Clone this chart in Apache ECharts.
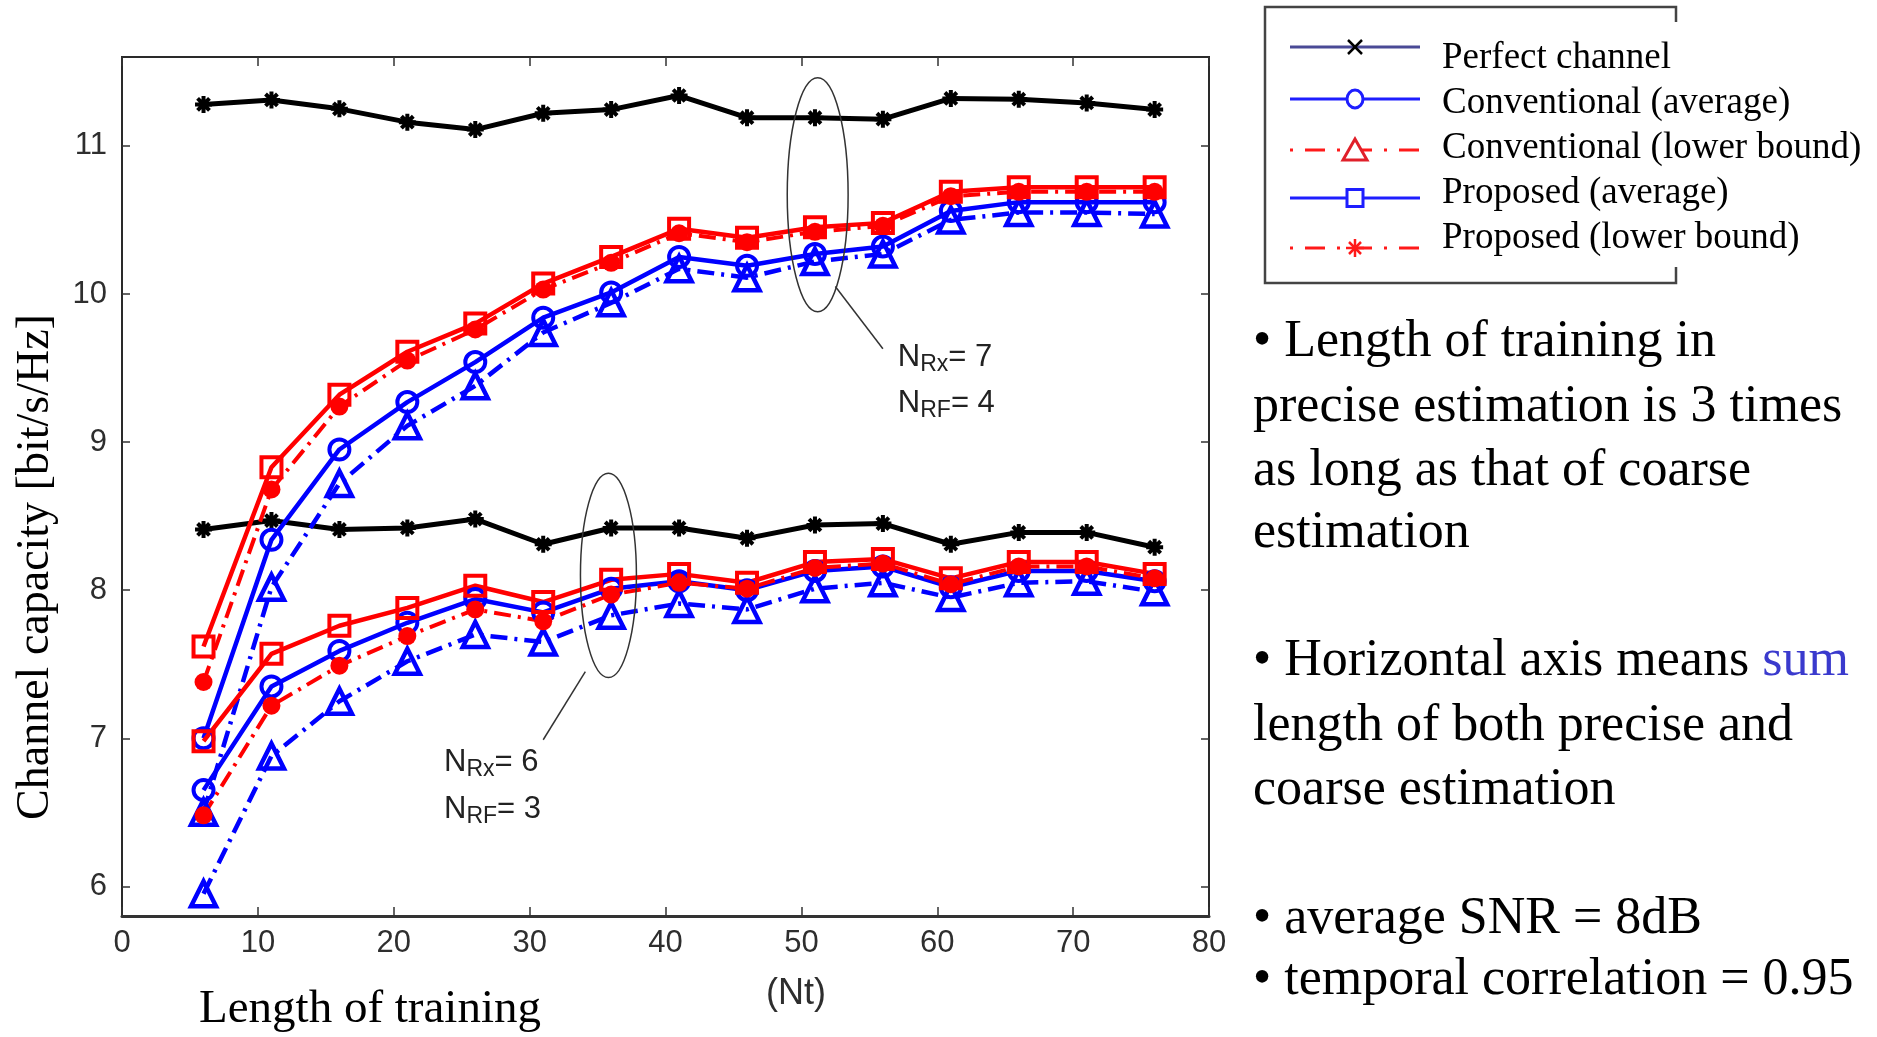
<!DOCTYPE html>
<html>
<head>
<meta charset="utf-8">
<script src="https://cdn.jsdelivr.net/npm/echarts@6/dist/echarts.min.js"></script>
<style>
html,body{margin:0;padding:0;background:#fff;}
#c{width:1877px;height:1037px;}
</style>
</head>
<body>
<div id="c"></div>
<script>
// ---------- data ----------
const nt = [6, 11, 16, 21, 26, 31, 36, 41, 46, 51, 56, 61, 66, 71, 76];

// N_Rx = 7, N_RF = 4
const perfect7 = [11.28, 11.31, 11.25, 11.16, 11.11, 11.22, 11.245, 11.34, 11.19, 11.19, 11.18, 11.32, 11.315, 11.29, 11.245];
const convAvg7 = [7.00, 8.34, 8.95, 9.27, 9.54, 9.84, 10.01, 10.25, 10.19, 10.27, 10.32, 10.56, 10.62, 10.62, 10.62];
const convLB7  = [6.50, 8.02, 8.72, 9.11, 9.38, 9.74, 9.94, 10.17, 10.11, 10.22, 10.27, 10.50, 10.55, 10.55, 10.54];
const propAvg7 = [7.62, 8.83, 9.32, 9.61, 9.80, 10.07, 10.25, 10.44, 10.38, 10.45, 10.48, 10.69, 10.72, 10.72, 10.72];
const propLB7  = [7.38, 8.68, 9.24, 9.55, 9.76, 10.03, 10.21, 10.41, 10.35, 10.42, 10.46, 10.66, 10.69, 10.69, 10.69];

// N_Rx = 6, N_RF = 3
const perfect6 = [8.41, 8.47, 8.41, 8.42, 8.48, 8.31, 8.42, 8.42, 8.35, 8.44, 8.45, 8.31, 8.39, 8.39, 8.29];
const convAvg6 = [6.65, 7.35, 7.59, 7.78, 7.94, 7.85, 8.01, 8.06, 8.00, 8.13, 8.16, 8.02, 8.13, 8.13, 8.06];
const convLB6  = [5.95, 6.88, 7.25, 7.52, 7.70, 7.65, 7.83, 7.91, 7.87, 8.01, 8.05, 7.95, 8.05, 8.06, 7.99];
const propAvg6 = [6.98, 7.57, 7.76, 7.88, 8.03, 7.92, 8.07, 8.11, 8.05, 8.19, 8.21, 8.08, 8.19, 8.19, 8.11];
const propLB6  = [6.48, 7.22, 7.49, 7.69, 7.87, 7.79, 7.97, 8.05, 8.01, 8.15, 8.18, 8.04, 8.16, 8.16, 8.08];

const yTicks = [6, 7, 8, 9, 10, 11];
const xTicks = [0, 10, 20, 30, 40, 50, 60, 70, 80];

const legendLabels = ['Perfect channel', 'Conventional (average)', 'Conventional (lower bound)', 'Proposed (average)', 'Proposed (lower bound)'];
const sideLines = [
  ['• Length of training in'],
  ['precise estimation is 3 times'],
  ['as long as that of coarse'],
  ['estimation'],
  ['• Horizontal axis means ', 'sum'],
  ['length of both precise and'],
  ['coarse estimation'],
  ['• average SNR = 8dB'],
  ['• temporal correlation = 0.95']
];

// ---------- styles ----------
const BLUE = '#0000ff', RED = '#ff0000', BLACK = '#000000';
const dashDot = [17, 7, 3, 7];
const asterisk = 'path://M0,10L20,10M10,0L10,20M3,3L17,17M17,3L3,17';
const CLEAR = 'rgba(255,255,255,0)';

function pts(arr) { return nt.map((x, i) => [x, arr[i]]); }

function mk(name, arr, kind) {
  const base = { name, type: 'line', data: pts(arr), animation: false, silent: true, xAxisIndex: 0, yAxisIndex: 0 };
  if (kind === 'perfect') return Object.assign(base, { symbol: asterisk, symbolSize: 17, lineStyle: { color: BLACK, width: 5 }, itemStyle: { color: BLACK, borderColor: BLACK, borderWidth: 4 } });
  if (kind === 'convAvg') return Object.assign(base, { symbol: 'circle', symbolSize: 20, lineStyle: { color: BLUE, width: 4.5 }, itemStyle: { color: CLEAR, borderColor: BLUE, borderWidth: 4 } });
  if (kind === 'convLB') return Object.assign(base, { symbol: 'triangle', symbolSize: 25, lineStyle: { color: BLUE, width: 4.5, type: dashDot }, itemStyle: { color: CLEAR, borderColor: BLUE, borderWidth: 4.5 } });
  if (kind === 'propAvg') return Object.assign(base, { symbol: 'rect', symbolSize: 20, lineStyle: { color: RED, width: 4.5 }, itemStyle: { color: CLEAR, borderColor: RED, borderWidth: 4 } });
  return Object.assign(base, { symbol: 'circle', symbolSize: 18, lineStyle: { color: RED, width: 4, type: dashDot }, itemStyle: { color: RED, borderColor: RED, borderWidth: 0 } });
}

const series = [
  mk('Perfect channel (7,4)', perfect7, 'perfect'),
  mk('Perfect channel (6,3)', perfect6, 'perfect'),
  mk('Conventional (average) (7,4)', convAvg7, 'convAvg'),
  mk('Conventional (average) (6,3)', convAvg6, 'convAvg'),
  mk('Conventional (lower bound) (7,4)', convLB7, 'convLB'),
  mk('Conventional (lower bound) (6,3)', convLB6, 'convLB'),
  mk('Proposed (average) (7,4)', propAvg7, 'propAvg'),
  mk('Proposed (average) (6,3)', propAvg6, 'propAvg'),
  mk('Proposed (lower bound) (7,4)', propLB7, 'propLB'),
  mk('Proposed (lower bound) (6,3)', propLB6, 'propLB')
];

const axisColor = '#2a2a2a';
const tickFont = { fontSize: 31, color: '#2e2e2e', fontFamily: 'Liberation Sans, Arial, sans-serif' };

const option = {
  backgroundColor: '#fff',
  animation: false,
  grid: { left: 122, right: 668, top: 57, bottom: 121, show: true, borderColor: axisColor, borderWidth: 2, backgroundColor: '#fff' },
  xAxis: [
    { type: 'value', min: 0, max: 80, interval: 10, position: 'bottom',
      axisLine: { show: true, onZero: false, lineStyle: { color: '#333', width: 3 } },
      axisTick: { show: true, inside: true, length: 9, lineStyle: { color: '#333', width: 1.5 }, customValues: xTicks },
      axisLabel: Object.assign({ margin: 12, customValues: xTicks }, tickFont),
      splitLine: { show: false } },
    { type: 'value', min: 0, max: 80, interval: 10, position: 'top',
      axisLine: { show: true, onZero: false, lineStyle: { color: axisColor, width: 2 } },
      axisTick: { show: true, inside: true, length: 9, lineStyle: { color: '#333', width: 1.5 }, customValues: xTicks },
      axisLabel: { show: false }, splitLine: { show: false } }
  ],
  yAxis: [
    { type: 'value', min: 5.8, max: 11.6, position: 'left',
      axisLine: { show: true, onZero: false, lineStyle: { color: axisColor, width: 2 } },
      axisTick: { show: true, inside: true, length: 8, lineStyle: { color: '#333', width: 1.5 }, customValues: yTicks },
      axisLabel: Object.assign({ margin: 15, customValues: yTicks }, tickFont),
      splitLine: { show: false } },
    { type: 'value', min: 5.8, max: 11.6, position: 'right',
      axisLine: { show: true, onZero: false, lineStyle: { color: axisColor, width: 2 } },
      axisTick: { show: true, inside: true, length: 8, lineStyle: { color: '#333', width: 1.5 }, customValues: yTicks },
      axisLabel: { show: false }, splitLine: { show: false } }
  ],
  series: series
};

const chart = echarts.init(document.getElementById('c'), null, { renderer: 'canvas' });
chart.setOption(option);

// ---------- annotations (in data units) ----------
const ellipses = [
  { cx: 51.2, cy: 10.67, rx: 2.24, ry: 0.79 },
  { cx: 35.8, cy: 8.10, rx: 2.06, ry: 0.69 }
];
const leaders = [
  { from: [52.5, 10.05], to: [56.0, 9.63] },
  { from: [34.1, 7.45], to: [31.0, 6.99] }
];
const groupLabels = [
  { x: 57.1, y1: 9.57, y2: 9.26, rx: '7', rf: '4' },
  { x: 23.7, y1: 6.84, y2: 6.52, rx: '6', rf: '3' }
];

const P = (x, y) => chart.convertToPixel({ xAxisIndex: 0, yAxisIndex: 0 }, [x, y]);
const g = [];

ellipses.forEach(e => {
  const c = P(e.cx, e.cy), a = P(e.cx + e.rx, e.cy + e.ry);
  g.push({ type: 'ellipse', z: 50, shape: { cx: c[0], cy: c[1], rx: Math.abs(a[0] - c[0]), ry: Math.abs(a[1] - c[1]) }, style: { fill: null, stroke: '#333', lineWidth: 1.5 } });
});
leaders.forEach(l => {
  const a = P(l.from[0], l.from[1]), b = P(l.to[0], l.to[1]);
  g.push({ type: 'line', z: 50, shape: { x1: a[0], y1: a[1], x2: b[0], y2: b[1] }, style: { stroke: '#333', lineWidth: 1.5 } });
});
const subRich = {
  n: { fontSize: 31, fontFamily: 'Liberation Sans, Arial, sans-serif', fill: '#222', lineHeight: 38 },
  s: { fontSize: 23, fontFamily: 'Liberation Sans, Arial, sans-serif', fill: '#222', lineHeight: 22, verticalAlign: 'bottom' }
};
groupLabels.forEach(t => {
  const p1 = P(t.x, t.y1), p2 = P(t.x, t.y2);
  g.push({ type: 'text', z: 50, x: p1[0], y: p1[1], style: { text: '{n|N}{s|Rx}{n|= ' + t.rx + '}', rich: subRich, verticalAlign: 'middle', align: 'left' } });
  g.push({ type: 'text', z: 50, x: p2[0], y: p2[1], style: { text: '{n|N}{s|RF}{n|= ' + t.rf + '}', rich: subRich, verticalAlign: 'middle', align: 'left' } });
});

// axis titles
g.push({ type: 'text', x: 36, y: 567, rotation: Math.PI / 2, style: { text: 'Channel capacity [bit/s/Hz]', fontSize: 46, fontFamily: 'Liberation Serif, Times New Roman, serif', fill: '#000', align: 'center', verticalAlign: 'middle' } });
g.push({ type: 'text', x: 370, y: 1010, style: { text: 'Length of training', fontSize: 47, fontFamily: 'Liberation Serif, Times New Roman, serif', fill: '#000', align: 'center', verticalAlign: 'middle' } });
g.push({ type: 'text', x: 796, y: 994, style: { text: '(Nt)', fontSize: 36, fontFamily: 'Liberation Sans, Arial, sans-serif', fill: '#2e2e2e', align: 'center', verticalAlign: 'middle' } });

// legend box
g.push({ type: 'polyline', shape: { points: [[1676, 22], [1676, 7], [1265, 7], [1265, 283], [1676, 283], [1676, 267]] }, style: { fill: null, stroke: '#444', lineWidth: 2.5 } });
const lgSymY = [47, 99, 150, 198, 248];
const lgTxtY = [58, 103, 148, 193, 238];
const lgX1 = 1290, lgX2 = 1420, lgMX = 1355, lgTX = 1442;
const lgColors = ['#4a4a96', '#1e1eff', '#ff1a1a', '#1e1eff', '#ff1a1a'];
const lgDash = [null, null, [3, 12, 20, 12], null, [3, 12, 20, 12]];
legendLabels.forEach((lab, i) => {
  const y = lgSymY[i];
  g.push({ type: 'line', shape: { x1: lgX1, y1: y, x2: lgX2, y2: y }, style: { stroke: lgColors[i], lineWidth: 3, lineDash: lgDash[i] } });
  g.push({ type: 'text', x: lgTX, y: lgTxtY[i], style: { text: lab, fontSize: 37, fontFamily: 'Liberation Serif, Times New Roman, serif', fill: '#000', align: 'left', verticalAlign: 'middle' } });
});
// legend markers
(function () {
  let y = lgSymY[0];
  g.push({ type: 'line', shape: { x1: lgMX - 7, y1: y - 7, x2: lgMX + 7, y2: y + 7 }, style: { stroke: '#000', lineWidth: 2.5 } });
  g.push({ type: 'line', shape: { x1: lgMX + 7, y1: y - 7, x2: lgMX - 7, y2: y + 7 }, style: { stroke: '#000', lineWidth: 2.5 } });
  y = lgSymY[1];
  g.push({ type: 'ellipse', shape: { cx: lgMX, cy: y, rx: 8, ry: 9 }, style: { fill: '#fff', stroke: '#1e1eff', lineWidth: 3 } });
  y = lgSymY[2];
  g.push({ type: 'polygon', shape: { points: [[lgMX, y - 11], [lgMX - 12, y + 10], [lgMX + 12, y + 10]] }, style: { fill: '#fff', stroke: '#e0202a', lineWidth: 3 } });
  y = lgSymY[3];
  g.push({ type: 'rect', shape: { x: lgMX - 8, y: y - 8.5, width: 16, height: 17 }, style: { fill: '#fff', stroke: '#1e1eff', lineWidth: 3 } });
  y = lgSymY[4];
  [[-9, 0, 9, 0], [0, -9, 0, 9], [-6, -6, 6, 6], [6, -6, -6, 6]].forEach(s => {
    g.push({ type: 'line', shape: { x1: lgMX + s[0], y1: y + s[1], x2: lgMX + s[2], y2: y + s[3] }, style: { stroke: '#ff1a1a', lineWidth: 2.5 } });
  });
})();

// side text
const sideY = [342, 407, 471, 533, 661, 726, 790, 919, 980];
const serif = 'Liberation Serif, Times New Roman, serif';
sideLines.forEach((parts, i) => {
  let text = '{a|' + parts[0] + '}';
  if (parts.length > 1) text += '{b|' + parts[1] + '}';
  g.push({ type: 'text', x: 1253, y: sideY[i], style: {
    text: text, align: 'left', verticalAlign: 'middle',
    rich: { a: { fontSize: 52, fontFamily: serif, fill: '#000' }, b: { fontSize: 52, fontFamily: serif, fill: '#3a3acd' } }
  } });
});

chart.setOption({ graphic: { elements: g } });
</script>
</body>
</html>
